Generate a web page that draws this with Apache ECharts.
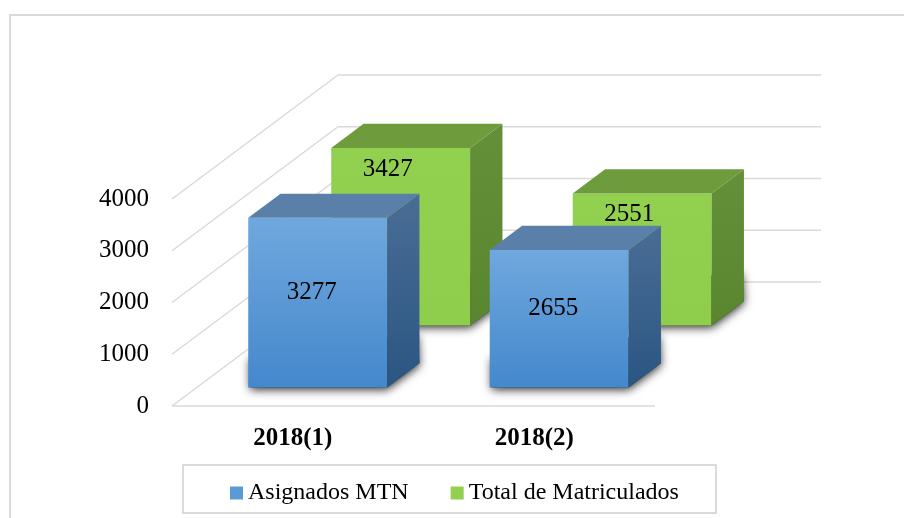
<!doctype html>
<html>
<head>
<meta charset="UTF-8">
<title>Asignados MTN / Total de Matriculados</title>
<script src="https://cdn.jsdelivr.net/npm/echarts@6/dist/echarts.min.js"></script>
<style>
	html,body{margin:0;padding:0;background:#fff;}
	#main{width:904px;height:518px;}
</style>
</head>
<body>
<div id="main"></div>
<script type="text/javascript">
	// datos
	var categories = ['2018(1)', '2018(2)'];
	var asignados = [3277, 2655];
	var matriculados = [3427, 2551];
	var yTicks = [0, 1000, 2000, 3000, 4000];
	var seriesNames = ['Asignados MTN', 'Total de Matriculados'];

	// vector de profundidad (perspectiva oblicua) en pixeles
	var DX = 166, DY = -124;
	var SERIF = '"Liberation Serif", "DejaVu Serif", serif';

	function grad(c1, c2) {
		return new echarts.graphic.LinearGradient(0, 0, 0, 1, [
			{offset: 0, color: c1}, {offset: 1, color: c2}
		]);
	}

	// dibuja una barra 3D entre la profundidad d0 y d1
	function barRenderer(d0, d1, pal, labelPos) {
		return function (params, api) {
			var cat = api.value(0), v = api.value(1);
			var base = api.coord([cat, 0]), top = api.coord([cat, v]);
			var bw = api.size([1, 0])[0] * 0.575;
			var ox = DX * d0, oy = DY * d0;
			var tx = DX * (d1 - d0), ty = DY * (d1 - d0);
			var xL = base[0] - bw / 2 + ox, xR = xL + bw;
			var yB = base[1] + oy, yT = top[1] + oy;
			var lx, ly;
			if (labelPos == 'mid') {
				lx = (xL + xR) / 2 - 6; ly = (yT + yB) / 2 - 10;
			} else {
				lx = (xL + xR) / 2 - 13; ly = yT + 21;
			}
			return {
				type: 'group',
				children: [
					{ // sombra (queda tapada por las caras, solo se ve el difuminado)
						type: 'polygon',
						shape: {points: [[xL + 2, yB - 30], [xL + 2, yB], [xR, yB], [xR + tx, yB + ty], [xR + tx - 2, yB + ty - 30]]},
						style: {fill: '#333', shadowBlur: 10, shadowOffsetY: 2, shadowColor: 'rgba(0,0,0,0.85)'}
					},
					{
						type: 'rect',
						shape: {x: xL, y: yT, width: bw, height: yB - yT},
						style: {fill: grad(pal.front[0], pal.front[1])}
					},
					{
						type: 'polygon',
						shape: {points: [[xR, yT], [xR + tx, yT + ty], [xR + tx, yB + ty], [xR, yB]]},
						style: {fill: grad(pal.side[0], pal.side[1])}
					},
					{
						type: 'polygon',
						shape: {points: [[xL, yT], [xR, yT], [xR + tx, yT + ty], [xL + tx, yT + ty]]},
						style: {fill: pal.top}
					},
					{
						type: 'text',
						style: {
							text: String(v), x: lx, y: ly, fill: '#000',
							font: '25px ' + SERIF, align: 'center', verticalAlign: 'middle'
						}
					}
				]
			};
		};
	}

	// paredes: lineas de la cuadricula (lado izquierdo y fondo)
	function wallRenderer(params, api) {
		var cs = params.coordSys;
		var p = api.coord([0, api.value(1)]);
		var x0 = cs.x, y = p[1];
		var lineStyle = {stroke: '#d9d9d9', lineWidth: 1.5};
		var children = [
			{type: 'line', shape: {x1: x0, y1: y, x2: x0 + DX, y2: y + DY}, style: lineStyle},
			{type: 'line', shape: {x1: x0 + DX, y1: y + DY, x2: cs.x + cs.width + DX, y2: y + DY}, style: lineStyle}
		];
		if (api.value(1) === 0) {
			children.push({type: 'line', shape: {x1: x0, y1: y, x2: cs.x + cs.width, y2: y}, style: lineStyle});
		}
		return {type: 'group', children: children};
	}

	var blueData = asignados.map(function (v, i) { return [i, v]; });
	var greenData = matriculados.map(function (v, i) { return [i, v]; });
	var wallData = yTicks.map(function (v) { return [0, v]; });

	var myChart = echarts.init(document.getElementById('main'), null, {renderer: 'canvas'});
	var option = {
		animation: false,
		backgroundColor: '#fff',
		grid: {left: 172, right: 249, top: 199, bottom: 112},
		xAxis: {
			type: 'category',
			data: categories,
			axisLine: {show: false},
			axisTick: {show: false},
			axisLabel: {
				margin: 20, color: '#000', fontFamily: SERIF, fontSize: 25,
				fontWeight: 'bold', lineHeight: 25
			}
		},
		yAxis: {
			type: 'value',
			min: 0, max: 4000, interval: 1000,
			splitLine: {show: false},
			axisLine: {show: false},
			axisTick: {show: false},
			axisLabel: {
				margin: 23, color: '#000', fontFamily: SERIF, fontSize: 25,
				formatter: function (v) { return String(v); }
			}
		},
		legend: {
			data: seriesNames,
			left: 225, top: 476,
			icon: 'rect', itemWidth: 13, itemHeight: 13, itemGap: 42,
			textStyle: {color: '#000', fontFamily: SERIF, fontSize: 24, lineHeight: 24}
		},
		graphic: [
			{type: 'rect', shape: {x: 10, y: 15, width: 1000, height: 600}, style: {fill: 'none', stroke: '#d9d9d9', lineWidth: 2}, silent: true},
			{type: 'rect', shape: {x: 183, y: 465, width: 533, height: 48}, style: {fill: 'none', stroke: '#d0d0d0', lineWidth: 1.5}, silent: true}
		],
		series: [
			{
				name: 'paredes', type: 'custom', data: wallData, renderItem: wallRenderer,
				encode: {x: 0, y: 1}, clip: false, silent: true, z: 1
			},
			{
				name: seriesNames[0], type: 'custom', data: blueData,
				encode: {x: 0, y: 1}, clip: false, z: 4,
				itemStyle: {color: '#5b9bd5'},
				renderItem: barRenderer(0.15, 0.345, {
					front: ['#70a8de', '#4488cc'], side: ['#4a6d95', '#2a5682'], top: '#5a7fa8'
				}, 'mid')
			},
			{
				name: seriesNames[1], type: 'custom', data: greenData,
				encode: {x: 0, y: 1}, clip: false, z: 3,
				itemStyle: {color: '#92d050'},
				renderItem: barRenderer(0.65, 0.845, {
					front: ['#92d050', '#8fcd4d'], side: ['#64903a', '#5a862f'], top: '#6e9c3c'
				}, 'top')
			}
		]
	};
	myChart.setOption(option);
</script>
</body>
</html>
